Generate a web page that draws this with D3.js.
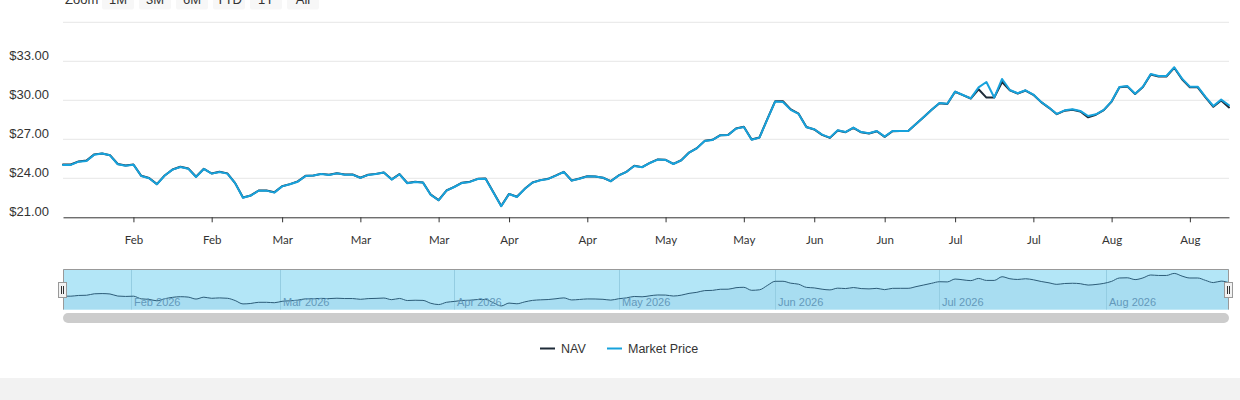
<!DOCTYPE html>
<html><head><meta charset="utf-8">
<script src="https://cdn.jsdelivr.net/npm/d3@7"></script>
<style>
html,body{margin:0;padding:0;background:#fff;}
svg{display:block;}
</style></head>
<body>
<svg id="chart" width="1240" height="400"></svg>
<script>
// ---------------- DATA ----------------
const dates = [
"2026-01-20","2026-01-21","2026-01-22","2026-01-23","2026-01-26","2026-01-27","2026-01-28","2026-01-29","2026-01-30",
"2026-02-02","2026-02-03","2026-02-04","2026-02-05","2026-02-06","2026-02-09","2026-02-10","2026-02-11","2026-02-12","2026-02-13",
"2026-02-17","2026-02-18","2026-02-19","2026-02-20","2026-02-23","2026-02-24","2026-02-25","2026-02-26","2026-02-27",
"2026-03-02","2026-03-03","2026-03-04","2026-03-05","2026-03-06","2026-03-09","2026-03-10","2026-03-11","2026-03-12","2026-03-13",
"2026-03-16","2026-03-17","2026-03-18","2026-03-19","2026-03-20","2026-03-23","2026-03-24","2026-03-25","2026-03-26","2026-03-27",
"2026-03-30","2026-03-31",
"2026-04-01","2026-04-02","2026-04-06","2026-04-07","2026-04-08","2026-04-09","2026-04-10","2026-04-13","2026-04-14","2026-04-15",
"2026-04-16","2026-04-17","2026-04-20","2026-04-21","2026-04-22","2026-04-23","2026-04-24","2026-04-27","2026-04-28","2026-04-29","2026-04-30",
"2026-05-01","2026-05-04","2026-05-05","2026-05-06","2026-05-07","2026-05-08","2026-05-11","2026-05-12","2026-05-13","2026-05-14",
"2026-05-15","2026-05-18","2026-05-19","2026-05-20","2026-05-21","2026-05-22","2026-05-26","2026-05-27","2026-05-28","2026-05-29",
"2026-06-01","2026-06-02","2026-06-03","2026-06-04","2026-06-05","2026-06-08","2026-06-09","2026-06-10","2026-06-11","2026-06-12",
"2026-06-15","2026-06-16","2026-06-17","2026-06-18","2026-06-22","2026-06-23","2026-06-24","2026-06-25","2026-06-26","2026-06-29","2026-06-30",
"2026-07-01","2026-07-02","2026-07-06","2026-07-07","2026-07-08","2026-07-09","2026-07-10","2026-07-13","2026-07-14","2026-07-15",
"2026-07-16","2026-07-17","2026-07-20","2026-07-21","2026-07-22","2026-07-23","2026-07-24","2026-07-27","2026-07-28","2026-07-29",
"2026-07-30","2026-07-31",
"2026-08-03","2026-08-04","2026-08-05","2026-08-06","2026-08-07","2026-08-10","2026-08-11","2026-08-12","2026-08-13","2026-08-14",
"2026-08-17","2026-08-18","2026-08-19","2026-08-20","2026-08-21","2026-08-24"
];

const marketPrice = [
25.03,25.03,25.28,25.33,25.82,25.90,25.77,25.08,24.97,
25.05,24.18,24.00,23.54,24.21,24.67,24.87,24.74,24.10,24.72,
24.36,24.49,24.36,23.62,22.51,22.67,23.05,23.05,22.90,
23.38,23.54,23.74,24.18,24.21,24.33,24.26,24.38,24.28,24.28,
24.03,24.26,24.33,24.44,23.90,24.31,23.62,23.72,23.67,22.72,
22.31,23.05,
23.33,23.64,23.72,23.95,23.97,22.90,21.85,22.79,22.56,23.18,
23.67,23.85,23.95,24.21,24.49,23.82,23.97,24.15,24.13,24.05,23.77,
24.21,24.49,24.95,24.85,25.18,25.44,25.41,25.10,25.38,25.97,
26.31,26.87,26.95,27.31,27.33,27.82,27.95,26.97,27.13,28.54,
29.90,29.87,29.26,28.95,27.92,27.77,27.36,27.13,27.69,27.56,
27.90,27.56,27.46,27.64,27.21,27.64,27.64,27.64,28.18,28.72,29.28,
29.79,29.74,30.67,30.41,30.15,31.00,31.41,30.21,31.64,30.79,
30.54,30.77,30.44,29.87,29.44,28.95,29.23,29.31,29.18,28.79,
28.92,29.26,
29.92,31.03,31.10,30.51,31.05,32.03,31.87,31.87,32.54,31.67,
31.05,31.05,30.26,29.56,30.05,29.62
];

const nav = [
25.07,25.06,25.30,25.36,25.84,25.91,25.78,25.10,24.98,
25.06,24.19,24.02,23.55,24.22,24.68,24.89,24.76,24.12,24.73,
24.37,24.50,24.38,23.63,22.53,22.68,23.06,23.06,22.92,
23.39,23.55,23.76,24.19,24.22,24.34,24.27,24.39,24.29,24.29,
24.04,24.27,24.34,24.45,23.92,24.32,23.64,23.73,23.68,22.74,
22.32,23.06,
23.34,23.66,23.74,23.96,23.98,22.92,21.87,22.80,22.58,23.19,
23.68,23.86,23.96,24.22,24.50,23.83,23.98,24.16,24.14,24.04,23.78,
24.22,24.50,24.96,24.86,25.19,25.45,25.42,25.11,25.39,25.98,
26.32,26.88,26.96,27.32,27.34,27.83,27.96,26.98,27.14,28.55,
29.92,29.93,29.30,28.97,27.94,27.76,27.34,27.11,27.68,27.55,
27.88,27.54,27.44,27.62,27.19,27.62,27.63,27.63,28.17,28.72,29.27,
29.78,29.72,30.66,30.40,30.14,30.85,30.21,30.21,31.41,30.76,
30.52,30.75,30.42,29.86,29.42,28.93,29.20,29.28,29.14,28.69,
28.89,29.24,
29.90,31.00,31.07,30.48,31.02,31.98,31.83,31.83,32.50,31.62,
31.00,31.00,30.22,29.50,29.98,29.45
];

const seriesNames = ["NAV","Market Price"];
const seriesColors = ["#1e2b38","#17a2dc"];
const yTickValues = [21,24,27,30,33];
const yGridValues = [24,27,30,33,36];
const xTickDates = ["2026-02-02","2026-02-17","2026-03-02","2026-03-16","2026-03-30","2026-04-13","2026-04-27",
                    "2026-05-11","2026-05-26","2026-06-08","2026-06-22","2026-07-06","2026-07-20","2026-08-03","2026-08-17"];
const navigatorMonths = ["2026-02-01","2026-03-01","2026-04-01","2026-05-01","2026-06-01","2026-07-01","2026-08-01"];
const zoomButtons = ["1M","3M","6M","YTD","1Y","All"];

// ---------------- CHART ----------------
const parse = d3.timeParse("%Y-%m-%d");
const dateObjs = dates.map(parse);
const svg = d3.select("#chart");
const FONT = "'Liberation Sans', Arial, Helvetica, sans-serif";

const L = 63, R = 1229, T = 22.3, B = 217.3;
const x = d3.scaleLinear().domain([0, dates.length - 1]).range([L, R]);
const y = d3.scaleLinear().domain([21, 33]).range([B, 61.3]);

// range selector
svg.append("text").attr("x", 65).attr("y", 4).attr("font-family", FONT)
  .attr("font-size", 13).attr("fill", "#333").text("Zoom");
const btn = svg.append("g").selectAll("g").data(zoomButtons).join("g")
  .attr("transform", (d, i) => `translate(${102 + i * 37},0)`);
btn.append("rect").attr("x", 0).attr("y", -14).attr("width", 32).attr("height", 23.5)
  .attr("rx", 2).attr("fill", "#f7f7f7");
btn.append("text").attr("x", 16).attr("y", 4).attr("text-anchor", "middle")
  .attr("font-family", FONT).attr("font-size", 13).attr("fill", "#333").text(d => d);

// gridlines
svg.append("g").attr("class", "grid").selectAll("line").data(yGridValues).join("line")
  .attr("x1", L).attr("x2", R).attr("y1", d => y(d)).attr("y2", d => y(d))
  .attr("stroke", "#e6e6e6").attr("stroke-width", 1);

// y axis
const yAxis = d3.axisLeft(y).tickValues(yTickValues).tickFormat(d3.format("$.2f"))
  .tickSize(0).tickPadding(14);
const gy = svg.append("g").attr("transform", `translate(${L},0)`).call(yAxis);
gy.select(".domain").remove();
gy.selectAll("text").attr("font-family", FONT).attr("font-size", 13).attr("fill", "#333")
  .attr("dy", "-0.12em");

// x axis
const tickIdx = xTickDates.map(s => dates.indexOf(s));
const xAxis = d3.axisBottom(x).tickValues(tickIdx)
  .tickFormat(i => d3.timeFormat("%b")(dateObjs[i])).tickSize(5).tickSizeOuter(0);
const gx = svg.append("g").attr("transform", `translate(0,${B})`).call(xAxis);
gx.select(".domain").attr("stroke", "#333");
gx.selectAll(".tick line").attr("stroke", "#333");
gx.selectAll("text").attr("font-family", "Lato, 'Open Sans', sans-serif").attr("font-size", 11.5)
  .attr("fill", "#333").attr("dy", null).attr("y", 27);

// series
const line = d3.line().x((d, i) => x(i)).y(d => y(d));
[nav, marketPrice].forEach((s, k) => {
  svg.append("path").datum(s).attr("d", line).attr("fill", "none")
    .attr("stroke", seriesColors[k]).attr("stroke-width", 2)
    .attr("stroke-linejoin", "round").attr("stroke-linecap", "round");
});

// navigator
const NT = 269, NB = 309.5;
const ny = d3.scaleLinear().domain([20.87, 33.94]).range([309, 269]);
const ng = svg.append("g");
ng.append("rect").attr("x", L).attr("y", NT).attr("width", R - L).attr("height", NB - NT)
  .attr("fill", "#b3e6f7");
const narea = d3.area().x((d, i) => x(i)).y0(NB).y1(d => ny(d)).curve(d3.curveMonotoneX);
ng.append("path").datum(nav).attr("d", narea).attr("fill", "#a8ddf1");
function fracIndex(s) {
  const t = parse(s);
  for (let i = 0; i < dateObjs.length - 1; i++) {
    if (dateObjs[i] <= t && t < dateObjs[i + 1]) {
      return i + (t - dateObjs[i]) / (dateObjs[i + 1] - dateObjs[i]);
    }
  }
  return 0;
}
const monthPos = navigatorMonths.map(fracIndex);
ng.selectAll("line.ngrid").data(monthPos).join("line").attr("class", "ngrid")
  .attr("x1", d => Math.round(x(d)) + 0.5).attr("x2", d => Math.round(x(d)) + 0.5)
  .attr("y1", NT).attr("y2", NB).attr("stroke", "#94cde2").attr("stroke-width", 1);
const nline = d3.line().x((d, i) => x(i)).y(d => ny(d)).curve(d3.curveMonotoneX);
ng.append("path").datum(nav).attr("d", nline).attr("fill", "none")
  .attr("stroke", "#2c5c78").attr("stroke-width", 1);
ng.selectAll("text").data(navigatorMonths).join("text")
  .attr("x", (d, i) => Math.round(x(monthPos[i])) + 3).attr("y", 306)
  .attr("font-family", FONT).attr("font-size", 11).attr("fill", "#6399bb")
  .text(d => d3.timeFormat("%b %Y")(parse(d)));
// outline
ng.append("path").attr("d", `M${L + 0.5},${NB} V${NT + 0.5} H${R - 0.5} V${NB}`)
  .attr("fill", "none").attr("stroke", "#999").attr("stroke-width", 1);
// handles
[L, R].forEach(hx => {
  const h = ng.append("g").attr("transform", `translate(${Math.round(hx)},0)`);
  h.append("rect").attr("x", -4.5).attr("y", 282.5).attr("width", 8).attr("height", 15)
    .attr("fill", "#f2f2f2").attr("stroke", "#999").attr("stroke-width", 1);
  h.append("path").attr("d", "M-1.5,286 V294 M0.5,286 V294")
    .attr("stroke", "#333").attr("stroke-width", 1);
});
// scrollbar
svg.append("rect").attr("x", L).attr("y", 313).attr("width", R - L).attr("height", 10)
  .attr("rx", 5).attr("fill", "#cccccc");

// legend
const legendX = [540, 607];
const lg = svg.append("g").selectAll("g").data(seriesNames).join("g")
  .attr("transform", (d, i) => `translate(${legendX[i]},0)`);
lg.append("line").attr("x1", 0).attr("x2", 15).attr("y1", 348.5).attr("y2", 348.5)
  .attr("stroke", (d, i) => seriesColors[i]).attr("stroke-width", 2);
lg.append("text").attr("x", 21).attr("y", 353).attr("font-family", FONT)
  .attr("font-size", 12.5).attr("fill", "#333").text(d => d);

// bottom band
svg.append("rect").attr("x", 0).attr("y", 378).attr("width", 1240).attr("height", 22)
  .attr("fill", "#f2f2f2");
</script>
</body></html>
